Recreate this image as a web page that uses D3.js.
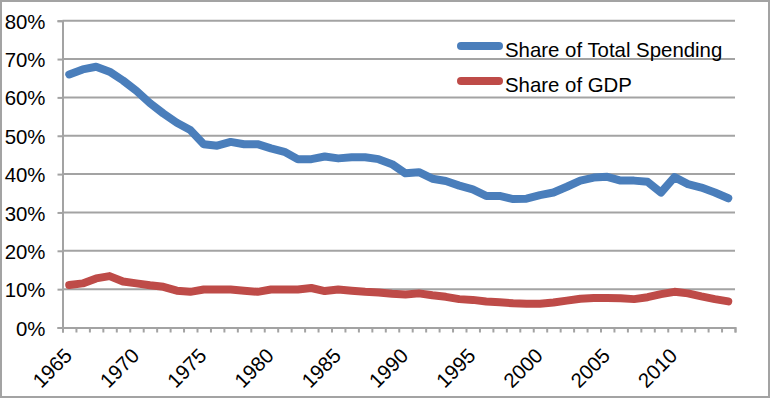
<!DOCTYPE html>
<html>
<head>
<meta charset="utf-8">
<script src="https://cdn.jsdelivr.net/npm/d3@7"></script>
<style>
  html, body { margin: 0; padding: 0; background: #fff; }
  svg { display: block; font-family: "Liberation Sans", Arial, Helvetica, sans-serif; }
</style>
</head>
<body>
<div id="chart"></div>
<script>
// years on the category axis
const years = d3.range(1965, 2015);
// share of total spending (%)
const totalSpending = [
  66.0, 67.3, 68.0, 66.7, 64.4, 61.7, 58.5, 55.8, 53.4, 51.5,
  47.8, 47.4, 48.4, 47.8, 47.8, 46.7, 45.8, 43.9, 43.9, 44.6,
  44.1, 44.4, 44.4, 43.9, 42.6, 40.2, 40.5, 38.8, 38.2, 37.0,
  36.0, 34.3, 34.3, 33.5, 33.6, 34.5, 35.2, 36.7, 38.3, 39.1,
  39.3, 38.3, 38.3, 38.0, 35.2, 39.2, 37.4, 36.5, 35.2, 33.7
];
// share of GDP (%)
const gdpShare = [
  11.1, 11.5, 12.8, 13.4, 12.0, 11.5, 11.0, 10.6, 9.6, 9.3,
  9.9, 9.9, 9.9, 9.6, 9.3, 9.9, 9.9, 9.9, 10.3, 9.5,
  9.9, 9.6, 9.3, 9.1, 8.8, 8.6, 8.9, 8.4, 8.0, 7.4,
  7.2, 6.8, 6.6, 6.3, 6.2, 6.2, 6.5, 7.0, 7.5, 7.7,
  7.7, 7.6, 7.4, 7.9, 8.7, 9.3, 8.9, 8.1, 7.4, 6.8
];
const yTicks = [0, 10, 20, 30, 40, 50, 60, 70, 80];
const xLabels = [1965, 1970, 1975, 1980, 1985, 1990, 1995, 2000, 2005, 2010];
const seriesNames = ["Share of Total Spending", "Share of GDP"];
const seriesColors = ["#4a7ebb", "#be4b48"];

const width = 771, height = 399;
const plotLeft = 62.5, plotRight = 735, plotTop = 20.7, plotBottom = 327.5;
const gray = "#a3a3a3";
const fontSize = "20.4px";

const svg = d3.select("#chart").append("svg")
  .attr("width", width)
  .attr("height", height);

// outer frame
svg.append("rect")
  .attr("x", 1).attr("y", 1)
  .attr("width", 768).attr("height", 396)
  .attr("fill", "none")
  .attr("stroke", gray)
  .attr("stroke-width", 2);

const x = d3.scaleLinear()
  .domain([years[0] - 0.5, years[years.length - 1] + 0.5])
  .range([plotLeft, plotRight]);

const y = d3.scaleLinear().domain([0, 80]).range([plotBottom, plotTop]);

// gridlines
svg.append("g")
  .selectAll("line")
  .data(yTicks.slice(1))
  .enter()
  .append("line")
  .attr("x1", plotLeft).attr("x2", plotRight)
  .attr("y1", d => y(d)).attr("y2", d => y(d))
  .attr("stroke", gray)
  .attr("stroke-width", 2);

// y axis
const yAxis = d3.axisLeft(y)
  .tickValues(yTicks)
  .tickSize(5)
  .tickPadding(12)
  .tickFormat(d => d + "%");

const yg = svg.append("g")
  .attr("transform", "translate(" + plotLeft + ",0)")
  .call(yAxis);
yg.selectAll("text").style("font-size", fontSize).attr("fill", "#000").attr("dy", "0.37em");

// x axis: year tick marks between categories
const xAxis = d3.axisBottom(x)
  .tickValues(d3.range(years[0] - 0.5, years[years.length - 1] + 1, 1))
  .tickSize(5)
  .tickFormat("");

const xg = svg.append("g")
  .attr("transform", "translate(0," + plotBottom + ")")
  .call(xAxis);

[yg, xg].forEach(g => {
  g.select(".domain").attr("stroke", gray).attr("stroke-width", 2);
  g.selectAll(".tick line").attr("stroke", gray).attr("stroke-width", 2);
});

// rotated year labels
svg.append("g")
  .selectAll("text")
  .data(xLabels)
  .enter()
  .append("text")
  .attr("transform", d => "translate(" + (x(d) + 4) + ",357) rotate(-45)")
  .attr("text-anchor", "end")
  .style("font-size", fontSize)
  .text(d => d);

// lines
const line = d3.line()
  .x((d, i) => x(years[i]))
  .y(d => y(d));

[totalSpending, gdpShare].forEach((s, i) => {
  svg.append("path")
    .datum(s)
    .attr("d", line)
    .attr("fill", "none")
    .attr("stroke", seriesColors[i])
    .attr("stroke-width", 8)
    .attr("stroke-linejoin", "round")
    .attr("stroke-linecap", "round");
});

// legend
const legend = svg.append("g")
  .selectAll("g")
  .data(seriesNames)
  .enter()
  .append("g")
  .attr("transform", (d, i) => "translate(0," + (46 + i * 35) + ")");

legend.append("line")
  .attr("x1", 461).attr("x2", 499)
  .attr("y1", 0).attr("y2", 0)
  .attr("stroke", (d, i) => seriesColors[i])
  .attr("stroke-width", 8)
  .attr("stroke-linecap", "round");

legend.append("text")
  .attr("x", 505)
  .attr("y", 10.5)
  .style("font-size", fontSize)
  .text(d => d);
</script>
</body>
</html>
